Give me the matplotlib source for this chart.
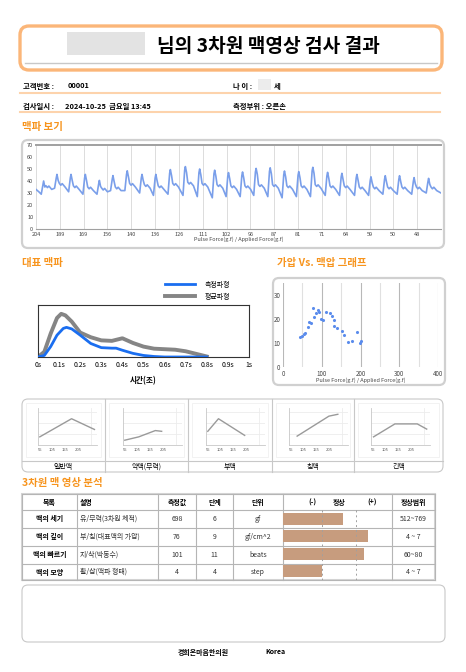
import matplotlib
matplotlib.use('Agg')
import matplotlib.pyplot as plt
from matplotlib.patches import FancyBboxPatch, Rectangle

plt.rcParams['font.family'] = ['Noto Sans CJK KR', 'DejaVu Sans']

W, H = 466, 672
ORANGE = '#f7941d'

# ---- data ----
pulse_ticks = [204, 189, 169, 156, 140, 136, 126, 111, 102, 96, 87, 81, 71, 64, 59, 50, 48]
beat_x = [0.32, 0.88, 1.47, 2.07, 2.66, 3.23, 3.83, 4.45, 5.03, 5.64, 6.27, 6.87, 7.50, 8.08,
          8.67, 9.24, 9.83, 10.43, 11.03, 11.62, 12.24, 12.84, 13.47, 14.06, 14.66, 15.26, 15.87, 16.48]
beat_peak = [40, 45.5, 45.5, 45.5, 40.5, 44.5, 48.5, 45.5, 45.5, 49.5, 52, 50, 49, 47,
             47.5, 50.5, 51, 48.3, 47.8, 51.4, 47.2, 46.4, 45.5, 43.5, 44.4, 44.4, 42.8, 42.2]
beat_trough = [29, 34, 31, 29, 29, 32, 32, 30, 28, 29, 28, 27, 26, 27,
               27, 28, 27, 26, 27, 27, 28, 28, 28, 28, 29, 29, 29, 30]
beat_notch = [35, 37, 35, 34, 33, 34, 37, 36, 35, 37, 38, 37, 36, 35,
              35, 36, 36, 35, 35, 36, 35, 35, 34, 34, 34, 34, 34, 34]

rep_t = [0, 0.03, 0.06, 0.09, 0.12, 0.135, 0.16, 0.2, 0.25, 0.3, 0.35, 0.37, 0.4, 0.45, 0.5, 0.55, 0.6, 0.7, 0.8]
rep_measured = [0, 0.03, 0.2, 0.42, 0.55, 0.57, 0.54, 0.42, 0.26, 0.18, 0.17, 0.17, 0.13, 0.07, 0.03, 0.01, 0, 0, 0]
avg_t = [0, 0.03, 0.06, 0.09, 0.11, 0.13, 0.16, 0.2, 0.25, 0.3, 0.35, 0.4, 0.45, 0.5, 0.55, 0.6, 0.65, 0.7, 0.75, 0.8]
rep_average = [0, 0.1, 0.45, 0.75, 0.83, 0.8, 0.68, 0.47, 0.38, 0.32, 0.31, 0.36, 0.27, 0.2, 0.16, 0.15, 0.14, 0.11, 0.06, 0.01]

press_x = [43.5, 49.6, 53.9, 57.4, 63.5, 67.8, 71.3, 76.5, 80, 85.2, 89.6, 93.9, 97.4, 102.6,
           111.3, 121.7, 127, 130.4, 132.2, 139.1, 152.2, 158.3, 167, 178.3, 191.3, 198.3, 201.7]
press_y = [12.4, 13.1, 13.75, 14.2, 16.8, 18.75, 18.5, 24.6, 20.8, 22.5, 23.9, 23.1, 20, 19.7,
           22.9, 22.6, 21.4, 19.4, 17.2, 16.25, 14.9, 13.3, 10.6, 10.8, 14.4, 10, 10.7]

type_names = ['일반맥', '약맥(무력)', '부맥', '침맥', '긴맥']
type_x = [[55, 180, 270], [55, 110, 175, 200], [55, 97, 200], [80, 205, 240], [58, 142, 230, 267]]
type_y = [[0.22, 0.71, 0.42], [0.13, 0.22, 0.39, 0.37], [0.37, 0.71, 0.26], [0.24, 0.78, 0.83], [0.22, 0.57, 0.57, 0.43]]

tbl_items = ['맥의 세기', '맥의 깊이', '맥의 빠르기', '맥의 모양']
tbl_desc = ['유/무력(3차원 체적)', '부/침(대표맥의 가압)', '지/삭(박동수)', '활/삽(맥파 형태)']
tbl_value = ['698', '76', '101', '4']
tbl_stage = ['6', '9', '11', '4']
tbl_unit = ['gf', 'gf/cm^2', 'beats', 'step']
tbl_range = ['512~769', '4 ~ 7', '60~80', '4 ~ 7']
tbl_bar = [0.55, 0.78, 0.74, 0.36]

fig = plt.figure(figsize=(W / 100, H / 100), dpi=100)


def rect(x0, y0, x1, y1):
    return [x0 / W, 1 - y1 / H, (x1 - x0) / W, (y1 - y0) / H]


# background canvas in pixel coordinates
bg = fig.add_axes([0, 0, 1, 1])
bg.set_xlim(0, W)
bg.set_ylim(H, 0)
bg.axis('off')


def rbox(x0, y0, x1, y1, ec, lw, r=6):
    bg.add_patch(FancyBboxPatch((x0, y0), x1 - x0, y1 - y0, boxstyle=f'round,pad=0,rounding_size={r}',
                                fc='white', ec=ec, lw=lw))


# title
rbox(20, 26, 442, 70, '#fbb679', 2.4, r=9)
bg.plot([25, 437], [63, 63], color='#c8c8c8', lw=1)
bg.add_patch(Rectangle((67, 32), 78, 23, fc='#e3e3e3', ec='none'))
bg.text(157, 47, '님의 3차원 맥영상 검사 결과', fontsize=13.8, fontweight='bold', va='center', ha='left')

# info rows
info_kw = dict(fontsize=5.3, fontweight='bold', va='center')
bg.text(23, 86, '고객번호 :', **info_kw)
bg.text(68, 86, '00001', **info_kw)
bg.text(233, 86, '나 이 :', **info_kw)
bg.add_patch(Rectangle((258, 79), 13, 11, fc='#ececec', ec='none'))
bg.text(274, 86, '세', **info_kw)
bg.text(23, 106, '검사일시 :', **info_kw)
bg.text(65, 106, '2024-10-25  금요일 13:45', **info_kw)
bg.text(233, 106, '측정부위 : 오른손', **info_kw)
bg.plot([20, 440], [93, 93], color='#fdd3ac', lw=1.5)
bg.plot([20, 440], [112, 112], color='#fdd3ac', lw=1.5)

sec_kw = dict(fontsize=7.5, fontweight='bold', color=ORANGE, va='center')
bg.text(22, 127, '맥파 보기', **sec_kw)
bg.text(22, 263, '대표 맥파', **sec_kw)
bg.text(277, 263, '가압 Vs. 맥압 그래프', **sec_kw)
bg.text(22, 483, '3차원 맥 영상 분석', **sec_kw)

# panels
rbox(22, 140, 444, 248, '#d0d0d0', 1.6)
rbox(273, 278, 445, 385, '#d0d0d0', 1.6)
rbox(22, 399, 443, 472, '#c8c8c8', 0.8)
rbox(22, 585, 445, 642, '#c8c8c8', 0.8)

# pulse-type panel dividers and labels
bg.plot([22, 443], [461, 461], color='#c8c8c8', lw=0.8)
col_edges = [22, 105, 188, 272, 354, 443]
for xe in col_edges[1:-1]:
    bg.plot([xe, xe], [399, 472], color='#c8c8c8', lw=0.8)
for i, name in enumerate(type_names):
    bg.add_patch(Rectangle((col_edges[i] + 4, 403), col_edges[i + 1] - col_edges[i] - 8, 54,
                           fc='none', ec='#f0f0f0', lw=0.6))
    bg.text((col_edges[i] + col_edges[i + 1]) / 2, 466.5, name, fontsize=5, ha='center', va='center')

# table grid
tx = [22, 77, 158, 196, 233, 283, 392, 435]
ty = [494, 510, 528, 546, 564, 580]
for yy in ty:
    bg.plot([22, 435], [yy, yy], color='#b5b5b5', lw=0.8)
for xx in tx:
    bg.plot([xx, xx], [494, 580], color='#b5b5b5', lw=0.8)
bg.add_patch(Rectangle((22, 494), 413, 86, fc='none', ec='#d5d5d5', lw=1.5))
head_kw = dict(fontsize=5, fontweight='bold', ha='center', va='center')
bg.text(49.5, 502, '목록', **head_kw)
bg.text(80, 502, '설명', fontsize=5, fontweight='bold', ha='left', va='center')
bg.text(177, 502, '측정값', **head_kw)
bg.text(214.5, 502, '단계', **head_kw)
bg.text(258, 502, '단위', **head_kw)
bg.text(312, 502, '(-)', **head_kw)
bg.text(339, 502, '정상', **head_kw)
bg.text(372, 502, '(+)', **head_kw)
bg.text(413.5, 502, '정상범위', **head_kw)
for i in range(4):
    yc = (ty[i + 1] + ty[i + 2]) / 2
    bg.text(49.5, yc, tbl_items[i], fontsize=5, fontweight='bold', ha='center', va='center')
    bg.text(80, yc, tbl_desc[i], fontsize=5, ha='left', va='center', color='#333333')
    bg.text(177, yc, tbl_value[i], fontsize=5, ha='center', va='center', color='#333333')
    bg.text(214.5, yc, tbl_stage[i], fontsize=5, ha='center', va='center', color='#333333')
    bg.text(258, yc, tbl_unit[i], fontsize=5, ha='center', va='center', color='#333333')
    bg.text(413.5, yc, tbl_range[i], fontsize=5, ha='center', va='center', color='#333333')

# footer
bg.text(203, 652, '경희온마음한의원', fontsize=5, fontweight='bold', ha='center', va='center')
bg.text(275, 652, 'Korea', fontsize=5, fontweight='bold', ha='center', va='center')

# ---- pulse wave ----
px, py = [0, 0.12], [33, 31]
for t, pk, tr, nt in zip(beat_x, beat_peak, beat_trough, beat_notch):
    px += [t - 0.1, t - 0.03, t, t + 0.05, t + 0.1, t + 0.16, t + 0.22, t + 0.34]
    py += [tr, pk - 3, pk, pk - 5, nt + 1, nt - 0.5, nt + 0.8, nt - 2]
px.append(17)
py.append(30)

ax1 = fig.add_axes(rect(36, 145, 441, 229))
ax1.plot(px, py, color='#7a9fea', lw=1.2, solid_joinstyle='round')
ax1.set_xlim(0, 17)
ax1.set_ylim(0, 70)
ax1.set_xticks(range(len(pulse_ticks)))
ax1.set_xticklabels(pulse_ticks)
ax1.set_yticks(range(0, 71, 10))
ax1.tick_params(labelsize=4, length=0, pad=2, colors='#444444')
ax1.grid(axis='x', color='#dcdcdc', lw=0.7)
for s in ['left', 'right']:
    ax1.spines[s].set_visible(False)
ax1.spines['top'].set_color('#a0a0a0')
ax1.spines['top'].set_linewidth(1.4)
ax1.spines['bottom'].set_color('#a0a0a0')
ax1.set_xlabel('Pulse Force(g.f) / Applied Force(g.f)', fontsize=4, labelpad=0, color='#444444')

# ---- representative pulse ----
ax2 = fig.add_axes(rect(38, 305, 249, 357))
ax2.plot(rep_t, rep_measured, color='#1a6ef0', lw=2, label='측정파형', zorder=3)
ax2.plot(avg_t, rep_average, color='#858585', lw=2.8, label='평균파형', zorder=2)
ax2.set_xlim(0, 1)
ax2.set_ylim(0, 1)
ticks = [i / 10 for i in range(11)]
ax2.set_xticks(ticks)
ax2.set_xticklabels(['0s'] + [f'{t:.1f}s' for t in ticks[1:-1]] + ['1s'])
ax2.set_yticks([])
ax2.tick_params(labelsize=5, length=0, pad=3)
for s in ax2.spines.values():
    s.set_color('#333333')
    s.set_linewidth(0.8)
ax2.set_xlabel('시간(초)', fontsize=5.5, fontweight='bold', labelpad=5)
ax2.legend(loc='upper left', bbox_to_anchor=(0.59, 1.52), frameon=False, fontsize=5,
           handlelength=4.3, handletextpad=1.4, labelspacing=0.6, borderaxespad=0)

# ---- pressure vs pulse pressure ----
ax3 = fig.add_axes(rect(283, 283, 438, 367))
ax3.scatter(press_x, press_y, s=5, color='#5b8cec', zorder=3, linewidths=0)
ax3.set_xlim(0, 400)
ax3.set_ylim(0, 35)
ax3.set_xticks([0, 100, 200, 300, 400])
ax3.set_xticks([50, 150, 250, 350], minor=True)
ax3.set_yticks([0, 10, 20, 30])
ax3.tick_params(labelsize=4.5, length=0, pad=2, colors='#444444')
ax3.tick_params(which='minor', length=0)
ax3.grid(axis='x', which='major', color='#b8b8b8', lw=0.8)
ax3.grid(axis='x', which='minor', color='#e0e0e0', lw=0.8)
for s in ax3.spines.values():
    s.set_visible(False)
ax3.set_xlabel('Pulse Force(g.f) / Applied Force(g.f)', fontsize=4, labelpad=0, color='#444444')

# ---- pulse type mini charts ----
mini_left = [38, 123, 206, 289, 371]
for i in range(5):
    axm = fig.add_axes(rect(mini_left[i], 408, mini_left[i] + 59, 445))
    axm.plot(type_x[i], type_y[i], color='#9a9a9a', lw=1)
    axm.set_xlim(48, 280)
    axm.set_ylim(0, 1)
    axm.set_xticks([55, 105, 155, 205])
    axm.set_xticks([105, 155, 205, 255], minor=True)
    axm.set_yticks([0.3, 0.6, 0.9], minor=True)
    axm.set_yticks([])
    axm.tick_params(labelsize=3, length=0, pad=2, colors='#555555')
    axm.tick_params(which='minor', length=0)
    axm.grid(which='minor', color='#ececec', lw=0.6)
    for s in ['top', 'right']:
        axm.spines[s].set_visible(False)
    for s in ['left', 'bottom']:
        axm.spines[s].set_color('#c8c8c8')
        axm.spines[s].set_linewidth(0.6)

# ---- table bars ----
ax4 = fig.add_axes(rect(283, 510, 392, 580))
ax4.barh(range(4), tbl_bar, height=0.66, color='#c79c7e', left=0)
ax4.axvline(0.36, color='#a0a0a0', lw=0.7, ls=(0, (2, 3)))
ax4.axvline(0.67, color='#a0a0a0', lw=0.7, ls=(0, (2, 3)))
ax4.set_xlim(0, 1)
ax4.set_ylim(3.5, -0.5)
ax4.axis('off')
ax4.patch.set_alpha(0)

fig.savefig('out.png', dpi=100)
